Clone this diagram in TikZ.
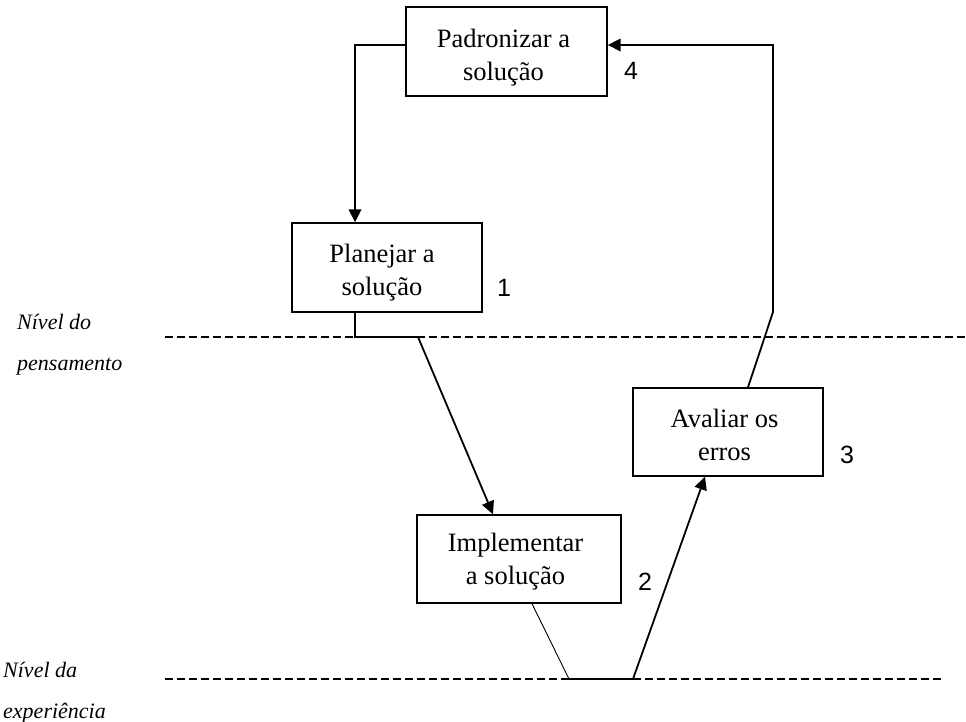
\documentclass[tikz,border=0pt]{standalone}
\usepackage{fontspec}
\setmainfont{Liberation Serif}
\newfontfamily\numfont{Liberation Sans}
\usetikzlibrary{arrows.meta}

\begin{document}
\begin{tikzpicture}[x=1pt,y=-1pt,
  stagebox/.style={draw,line width=1.4pt,inner sep=0pt},
  stagetext/.style={inner sep=0pt,align=center,
    font=\fontsize{26.5}{33}\selectfont},
  conn/.style={line width=1.8pt,-{Triangle[length=13pt,width=12.5pt]}},
  thinconn/.style={line width=0.9pt},
  level/.style={line width=2.6pt,dash pattern=on 8pt off 4pt},
  levellabel/.style={anchor=base west,inner sep=0pt,
    font=\fontsize{22}{26}\selectfont\itshape},
  stepno/.style={inner sep=0pt,font=\fontsize{25}{30}\numfont}]

\useasboundingbox (0,0) rectangle (966,722);

% the four stages of the cycle
\node[stagebox,minimum width=201pt,minimum height=89pt] (pad) at (506.5,51.5) {};
\node[stagebox,minimum width=190pt,minimum height=89pt] (plan) at (387,267.5) {};
\node[stagebox,minimum width=204pt,minimum height=88pt] (impl) at (519,559) {};
\node[stagebox,minimum width=190pt,minimum height=88pt] (aval) at (728,432) {};

\node[stagetext] (padtxt)  at ([xshift=-3pt,yshift=-6.5pt]pad.center)  {Padronizar a\\solução};
\node[stagetext] (plantxt) at ([xshift=-5pt,yshift=-5.5pt]plan.center) {Planejar a\\solução};
\node[stagetext] (impltxt) at ([xshift=-3.5pt,yshift=-2.5pt]impl.center) {Implementar\\a solução};
\node[stagetext] (avaltxt) at ([xshift=-3.5pt,yshift=-3pt]aval.center) {Avaliar os\\erros};

% step numbers
\node[stepno] (n4) at (631,71) {4};
\node[stepno] (n1) at (504,288) {1};
\node[stepno] (n3) at (847,455) {3};
\node[stepno] (n2) at (645,582) {2};

% levels
\coordinate (thinkL) at (165,337);
\coordinate (thinkR) at (966,337);
\coordinate (expL) at (165,679);
\coordinate (expR) at (943,679);
\draw[level] (thinkL) -- (thinkR);
\draw[level] (expL) -- (expR);

\node[levellabel] (lt1) at (17,329) {Nível do};
\node[levellabel] (lt2) at (17,370) {pensamento};
\node[levellabel] (le1) at (3,677) {Nível da};
\node[levellabel] (le2) at (3,718) {experiência};

% connector bends
\coordinate (a1) at (355,337);
\coordinate (a2) at (418,337);
\coordinate (b1) at (569,679);
\coordinate (b2) at (633,679);
\coordinate (c1) at (773,312);
\coordinate (c2) at (773,45);

% 4 -> 1
\draw[conn] ([yshift=6.5pt]pad.west) -| ([xshift=-32pt]plan.north);
% 1 -> 2
\draw[conn] ([xshift=-32pt]plan.south) -- (a1) -- (a2) -- ([xshift=-26pt]impl.north);
% 2 -> 3
\draw[thinconn] ([xshift=13pt]impl.south) -- (b1);
\draw[conn] (b1) -- (b2) -- ([xshift=-23pt]aval.south);
% 3 -> 4
\draw[conn] ([xshift=20pt]aval.north) -- (c1) -- (c2) -- ([yshift=6.5pt]pad.east);

\end{tikzpicture}
\end{document}
